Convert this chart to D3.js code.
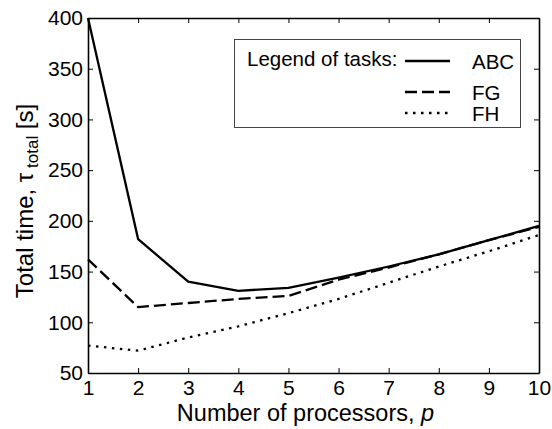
<!DOCTYPE html>
<html>
<head>
<meta charset="utf-8">
<script src="https://cdn.jsdelivr.net/npm/d3@7"></script>
<style>
  body { margin: 0; background: #fff; }
  svg { display: block; font-family: "Liberation Sans", Arial, Helvetica, sans-serif; }
</style>
</head>
<body>
<svg id="chart" width="552" height="429"></svg>
<script>
// Processor counts and total run time per task set
const processors = [1, 2, 3, 4, 5, 6, 7, 8, 9, 10];
const timeABC = [400, 182, 140, 131, 134, 144, 155, 167, 181, 195];
const timeFG  = [162, 115, 119, 123, 126, 142, 154, 167, 181, 194];
const timeFH  = [77, 72, 85, 96, 109, 123, 139, 155, 170, 186];
const seriesNames = ["ABC", "FG", "FH"];
const yTicks = [50, 100, 150, 200, 250, 300, 350, 400];
const xTicks = [1, 2, 3, 4, 5, 6, 7, 8, 9, 10];

const series = [
  { name: seriesNames[0], values: timeABC, dash: null },
  { name: seriesNames[1], values: timeFG,  dash: "12,5" },
  { name: seriesNames[2], values: timeFH,  dash: "2.5,5.5" }
];

const svg = d3.select("#chart");
const m = { left: 88, right: 13, top: 18, bottom: 56 };
const W = 552, H = 429;

const x = d3.scaleLinear().domain([1, 10]).range([m.left, W - m.right]);
const y = d3.scaleLinear().domain([50, 400]).range([H - m.bottom, m.top]);

// Lines
const line = d3.line().x((d, i) => x(processors[i])).y(d => y(d));
series.forEach(s => {
  svg.append("path")
    .datum(s.values)
    .attr("d", line)
    .attr("fill", "none")
    .attr("stroke", "#000")
    .attr("stroke-width", 2.3)
    .attr("stroke-linejoin", "miter")
    .attr("stroke-dasharray", s.dash);
});

// Axes with inward ticks on all four sides
function styleAxis(g) {
  g.select(".domain").attr("stroke", "#000").attr("stroke-width", 1.6);
  g.selectAll(".tick line").attr("stroke", "#000").attr("stroke-width", 1);
  g.selectAll("text").attr("fill", "#000").attr("font-size", 21).attr("font-family", null);
}

svg.append("g")
  .attr("transform", `translate(0,${y(50)})`)
  .call(d3.axisBottom(x).tickValues(xTicks).tickSizeInner(-5).tickSizeOuter(0).tickPadding(7))
  .call(styleAxis);

svg.append("g")
  .attr("transform", `translate(${x(1)},0)`)
  .call(d3.axisLeft(y).tickValues(yTicks).tickSizeInner(-5).tickSizeOuter(0).tickPadding(5))
  .call(styleAxis);

svg.append("g")
  .attr("transform", `translate(0,${y(400)})`)
  .call(d3.axisTop(x).tickValues(xTicks).tickSizeInner(-5).tickSizeOuter(0).tickFormat(""))
  .call(styleAxis);

svg.append("g")
  .attr("transform", `translate(${x(10)},0)`)
  .call(d3.axisRight(y).tickValues(yTicks).tickSizeInner(-5).tickSizeOuter(0).tickFormat(""))
  .call(styleAxis);

// Axis titles
const xt = svg.append("text")
  .attr("x", (x(1) + x(10)) / 2 - 8)
  .attr("y", 421)
  .attr("text-anchor", "middle")
  .attr("font-size", 23.5);
xt.append("tspan").text("Number of processors, ");
xt.append("tspan").attr("font-style", "italic").text("p");

const yt = svg.append("text")
  .attr("transform", `translate(33,201) rotate(-90)`)
  .attr("text-anchor", "middle")
  .attr("font-size", 24);
yt.append("tspan").text("Total time, \u03c4");
yt.append("tspan").attr("font-size", 17).attr("dy", 5).text(" total");
yt.append("tspan").attr("dy", -5).text(" [s]");

// Legend
const lg = svg.append("g");
lg.append("rect")
  .attr("x", 234.5).attr("y", 39.5)
  .attr("width", 286).attr("height", 88)
  .attr("fill", "#fff")
  .attr("stroke", "#444")
  .attr("stroke-width", 1);
lg.append("text")
  .attr("x", 247).attr("y", 66)
  .attr("font-size", 20.5)
  .text("Legend of tasks:");
const legendY = [61, 92, 113];
series.forEach((s, i) => {
  lg.append("line")
    .attr("x1", 405).attr("x2", 450)
    .attr("y1", legendY[i]).attr("y2", legendY[i])
    .attr("stroke", "#000")
    .attr("stroke-width", 2.3)
    .attr("stroke-dasharray", s.dash);
  lg.append("text")
    .attr("x", 472).attr("y", legendY[i] + 7.5)
    .attr("font-size", 20.5)
    .text(s.name);
});
</script>
</body>
</html>
